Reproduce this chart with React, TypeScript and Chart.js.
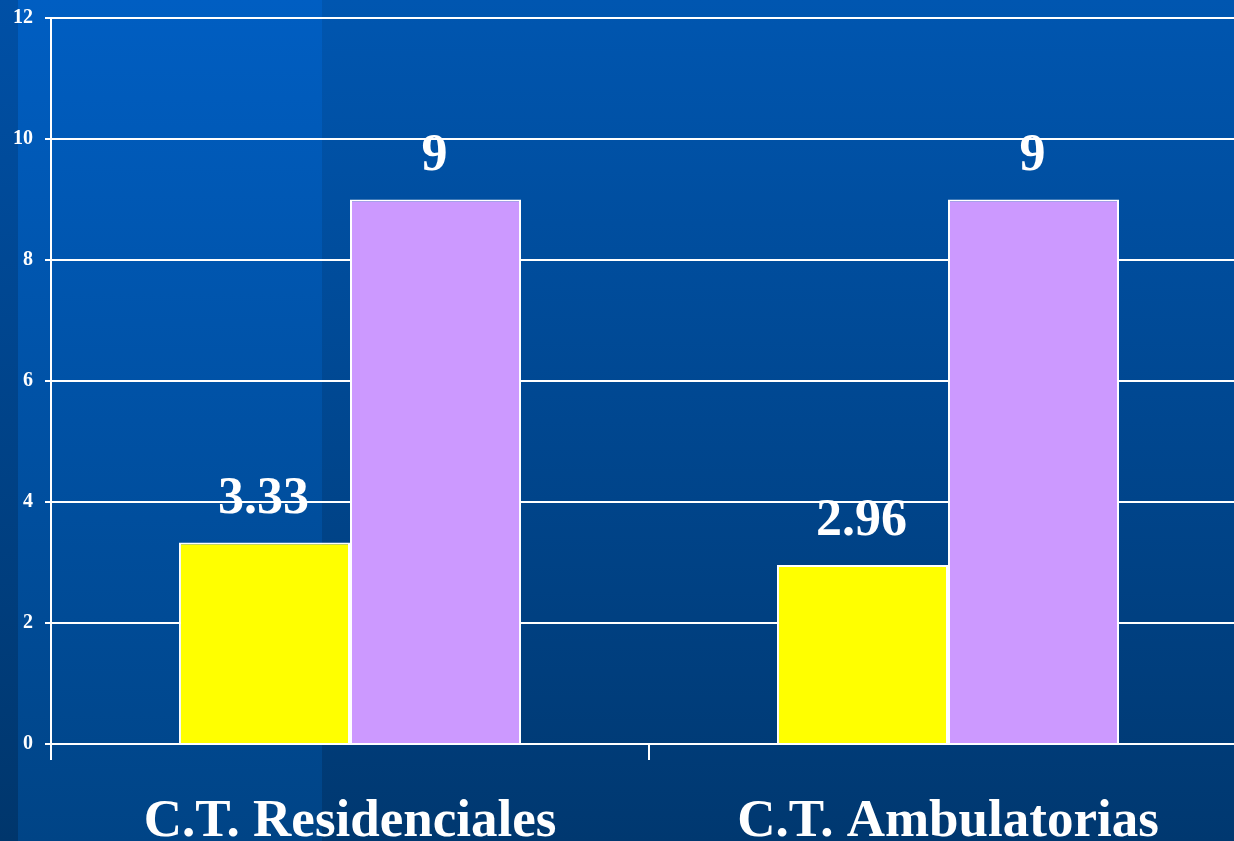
import React, { useEffect, useRef } from "react";
import { Chart, registerables } from "chart.js";

Chart.register(...registerables);

const categories = ["C.T. Residenciales", "C.T. Ambulatorias"];
const seriesA = [3.33, 2.96];
const seriesB = [9, 9];
const labelsA = ["3.33", "2.96"];
const labelsB = ["9", "9"];

const FONT = "'Liberation Serif', 'Times New Roman', serif";

const valueLabels = {
  id: "valueLabels",
  afterDatasetsDraw(chart: any) {
    const ctx = chart.ctx;
    ctx.save();
    ctx.fillStyle = "#ffffff";
    ctx.font = `bold 52px ${FONT}`;
    ctx.textAlign = "center";
    ctx.textBaseline = "alphabetic";
    const texts = [labelsA, labelsB];
    chart.data.datasets.forEach((_: any, di: number) => {
      const meta = chart.getDatasetMeta(di);
      meta.data.forEach((bar: any, i: number) => {
        ctx.fillText(texts[di][i], bar.x - 1, bar.y - 30);
      });
    });
    ctx.restore();
  },
};

export default function App() {
  const ref = useRef<HTMLCanvasElement>(null);
  useEffect(() => {
    if (!ref.current) return;
    const chart = new Chart(ref.current, {
      type: "bar",
      data: {
        labels: categories,
        datasets: [
          {
            data: seriesA,
            backgroundColor: "#ffff00",
            borderColor: "#ffffff",
            borderWidth: 2,
            categoryPercentage: 0.572,
            barPercentage: 1,
          },
          {
            data: seriesB,
            backgroundColor: "#cc99ff",
            borderColor: "#ffffff",
            borderWidth: 2,
            categoryPercentage: 0.572,
            barPercentage: 1,
          },
        ],
      },
      options: {
        responsive: false,
        animation: false,
        layout: { padding: { top: 18, right: 23, left: 0, bottom: 0 } },
        plugins: { legend: { display: false }, tooltip: { enabled: false } },
        scales: {
          x: {
            grid: {
              drawOnChartArea: false,
              drawTicks: true,
              tickLength: 16,
              color: "#ffffff",
              lineWidth: 2,
            },
            border: { display: true, color: "#ffffff", width: 2 },
            ticks: {
              color: "#ffffff",
              font: { family: FONT, size: 53, weight: "bold" },
              padding: 31,
              maxRotation: 0,
            },
            afterFit(scale: any) {
              scale.height = 97;
              scale.paddingLeft = 0;
              scale.paddingRight = 0;
            },
          },
          y: {
            min: 0,
            max: 12,
            ticks: {
              stepSize: 2,
              color: "#ffffff",
              font: { family: FONT, size: 20, weight: "bold" },
              padding: 12,
            },
            grid: { color: "#ffffff", lineWidth: 2, tickLength: 6 },
            border: { display: true, color: "#ffffff", width: 2 },
            afterFit(scale: any) {
              scale.width = 51;
              scale.paddingTop = 0;
              scale.paddingBottom = 0;
            },
          },
        },
      },
      plugins: [valueLabels],
    });
    return () => chart.destroy();
  }, []);

  return (
    <div
      style={{
        position: "fixed",
        left: 0,
        top: 0,
        width: 1234,
        height: 841,
        overflow: "hidden",
        background: "linear-gradient(to bottom, #0056b0, #003870)",
      }}
    >
      <div
        style={{
          position: "absolute",
          left: 18,
          top: 0,
          width: 304,
          height: 841,
          background: "linear-gradient(to bottom, #005ec2, #004486)",
        }}
      />
      <div
        style={{
          position: "absolute",
          left: 0,
          top: 0,
          width: 18,
          height: 841,
          background: "linear-gradient(to bottom, #0050a6, #00366c)",
        }}
      />
      <canvas
        ref={ref}
        width={1270}
        height={841}
        style={{ position: "absolute", left: 0, top: 0, width: 1270, height: 841 }}
      />
    </div>
  );
}
